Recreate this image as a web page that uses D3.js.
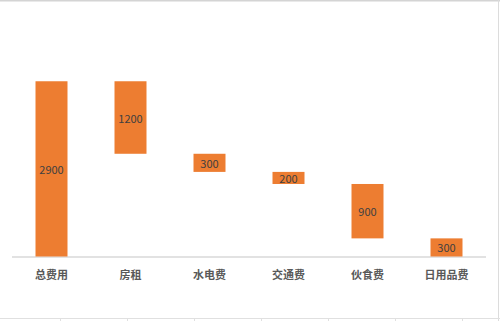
<!DOCTYPE html>
<html>
<head>
<meta charset="utf-8">
<script src="https://cdn.jsdelivr.net/npm/d3@7"></script>
<style>
  body { margin: 0; background: #fff; }
  svg { display: block; }
  .wf-label { font-family: "Noto Sans CJK SC", sans-serif; font-size: 11px; fill: #404040; }
  .wf-cat { font-family: "Noto Sans CJK SC", sans-serif; font-size: 11px; font-weight: bold; fill: #595959; }
</style>
</head>
<body>
<div id="chart"></div>
<script>
// categories and values
var categories = ["总费用", "房租", "水电费", "交通费", "伙食费", "日用品费"];
var values = [2900, 1200, 300, 200, 900, 300];
var yMax = 3500;

var width = 500,
  height = 321;

var svg = d3
  .select("#chart")
  .append("svg")
  .attr("width", width)
  .attr("height", height);

// sheet frame lines (spreadsheet border around the chart)
svg.append("line").attr("x1", 0).attr("x2", width).attr("y1", 0.5).attr("y2", 0.5)
  .attr("stroke", "#d4d4d4").attr("stroke-width", 2);
svg.append("line").attr("x1", 498.5).attr("x2", 498.5).attr("y1", 0).attr("y2", height)
  .attr("stroke", "#dcdcdc").attr("stroke-width", 1);
svg.append("line").attr("x1", 0).attr("x2", width).attr("y1", 318.5).attr("y2", 318.5)
  .attr("stroke", "#e0e0e0").attr("stroke-width", 1);
svg.selectAll(".sheet-tick")
  .data(d3.range(60, 500, 67))
  .enter()
  .append("line")
  .attr("x1", (d) => d + 0.5).attr("x2", (d) => d + 0.5)
  .attr("y1", 318).attr("y2", height)
  .attr("stroke", "#e0e0e0");

var x = d3
  .scaleBand()
  .domain(categories)
  .range([12, 486])
  .paddingInner(0.595)
  .paddingOuter(0.2975);

var y = d3.scaleLinear().domain([0, yMax]).range([256.5, 45]);

// waterfall: each item hangs below the running remainder
var data = [];
var remaining = values[0];
values.forEach(function (v, i) {
  if (i === 0) {
    data.push({ cat: categories[i], value: v, base: 0 });
  } else {
    remaining -= v;
    data.push({ cat: categories[i], value: v, base: remaining });
  }
});

// axis line
svg.append("line")
  .attr("x1", 12).attr("x2", 486)
  .attr("y1", y(0) + 0.5).attr("y2", y(0) + 0.5)
  .attr("stroke", "#d9d9d9").attr("stroke-width", 1.5);

svg.selectAll(".wf-bar")
  .data(data)
  .enter()
  .append("rect")
  .attr("class", "wf-bar")
  .attr("x", (d) => x(d.cat))
  .attr("y", (d) => y(d.base + d.value))
  .attr("width", x.bandwidth())
  .attr("height", (d) => y(d.base) - y(d.base + d.value))
  .attr("fill", "#ed7d31");

svg.selectAll(".wf-label")
  .data(data)
  .enter()
  .append("text")
  .attr("class", "wf-label")
  .attr("x", (d) => x(d.cat) + x.bandwidth() / 2)
  .attr("y", (d) => y(d.base + d.value / 2))
  .attr("text-anchor", "middle")
  .attr("dominant-baseline", "central")
  .text((d) => d.value);

svg.selectAll(".wf-cat")
  .data(categories)
  .enter()
  .append("text")
  .attr("class", "wf-cat")
  .attr("x", (d) => x(d) + x.bandwidth() / 2)
  .attr("y", 274)
  .attr("text-anchor", "middle")
  .attr("dominant-baseline", "central")
  .text((d) => d);
</script>
</body>
</html>
